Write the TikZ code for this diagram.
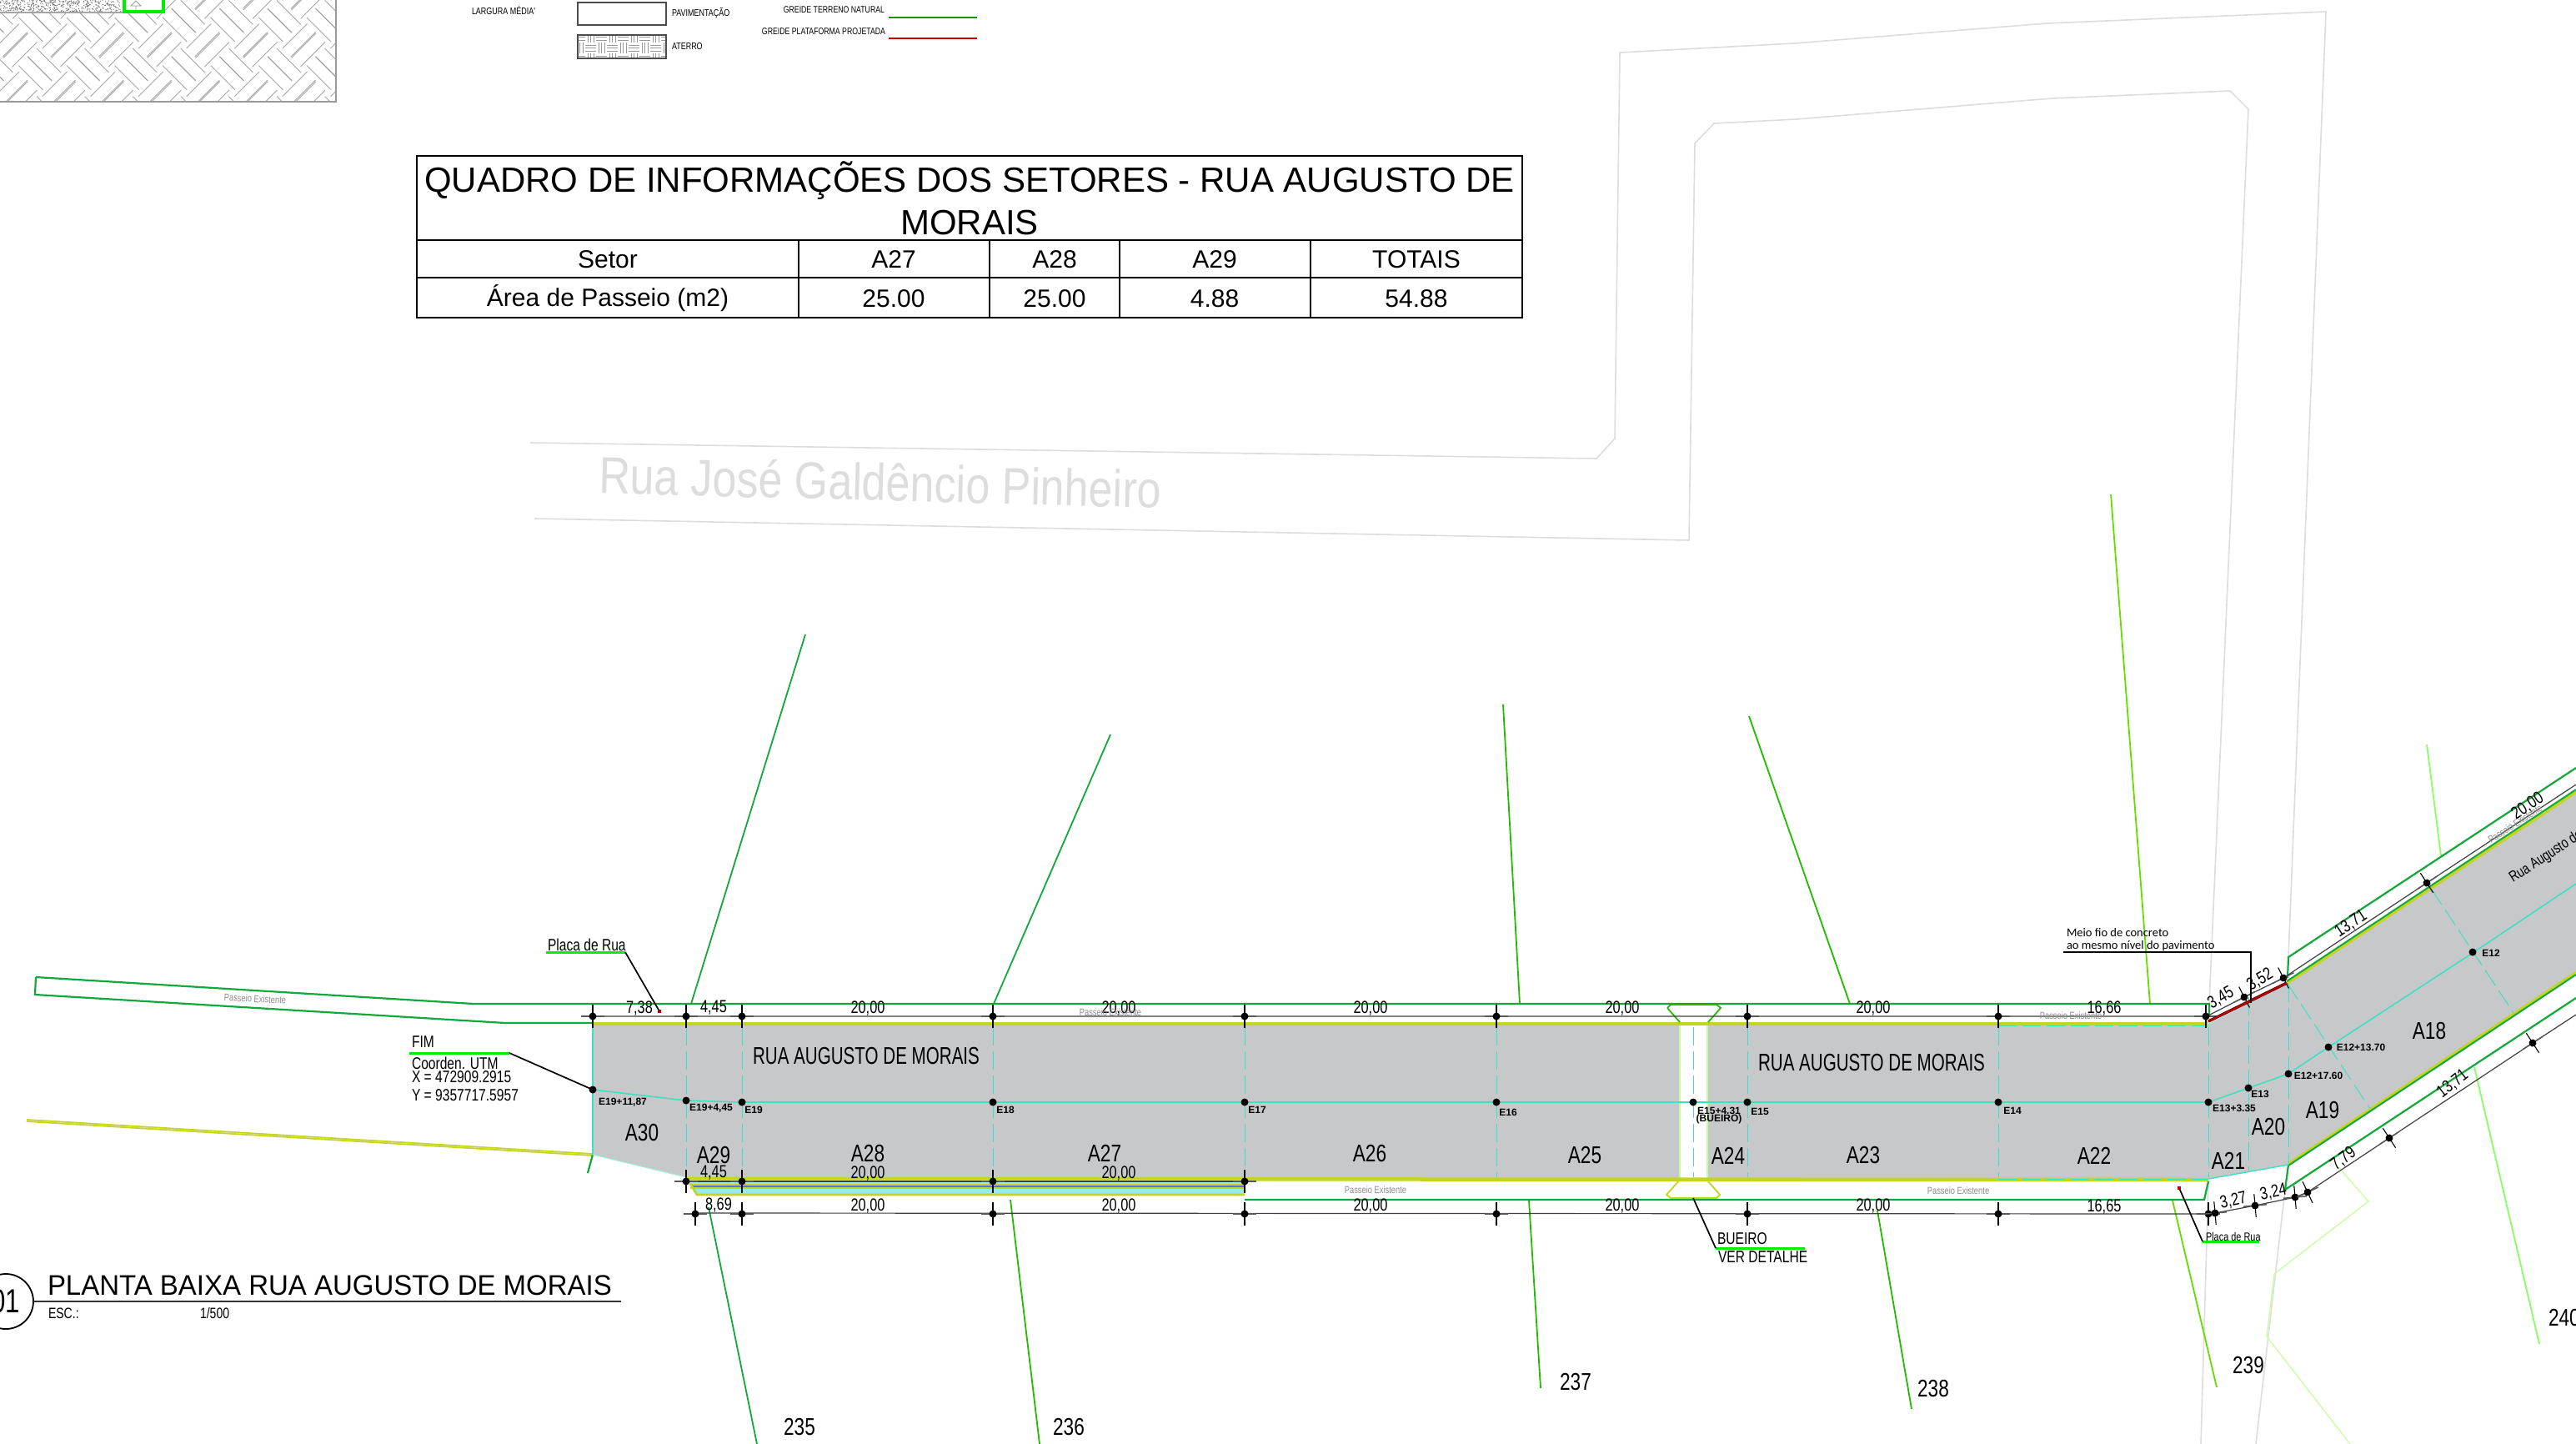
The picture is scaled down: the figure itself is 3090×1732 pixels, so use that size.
\documentclass[tikz,border=0pt]{standalone}
\usepackage{fontspec}
\setmainfont{Liberation Sans}
\newfontfamily\cad[FakeStretch=0.78]{Liberation Sans}
\newfontfamily\cadn[FakeStretch=0.71]{Liberation Sans}
\newfontfamily\cadw[FakeStretch=0.84]{Liberation Sans}
\newfontfamily\cadt[FakeStretch=0.97]{Liberation Sans}
\newfontfamily\calib{Carlito}
\definecolor{roadgrey}{HTML}{C7C8CA}
\definecolor{bandy}{HTML}{C4D420}
\definecolor{greenA}{HTML}{12A83C}
\definecolor{greenB}{HTML}{00EE00}
\definecolor{greenC}{HTML}{22BB00}
\definecolor{greenD}{HTML}{66DD00}
\definecolor{greenE}{HTML}{88FF66}
\definecolor{greenF}{HTML}{C4FF99}
\definecolor{cyanL}{HTML}{3FE0C0}
\definecolor{aqua}{HTML}{9AE8E8}
\definecolor{lightg}{HTML}{DDDDDD}
\newcommand\fs[1]{\fontsize{#1}{#1}\selectfont}
\newcommand\tx[4][]{\node[lbl,#1] (t#2-#3) at (#2,#3) {#4};}
\newcommand\dd[3]{\begin{scope}[shift={(#1,#2)},rotate=#3]\draw[stub] (-14,0) -- (14,0);\draw[tickm] (0,-14) -- (0,14);\fill (0,0) circle[radius=4.5];\end{scope}}
\tikzset{
  lbl/.style={inner sep=0pt,outer sep=0pt,text=black,font=\cad\fs{21}},
  dimt/.style={lbl,font=\cad\fs{21}},
  area/.style={lbl,font=\cad\fs{29}},
  est/.style={lbl,font=\bfseries\fs{12}},
  pass/.style={lbl,text=black!45,font=\cad\fs{12}},
  stat/.style={lbl,font=\cad\fs{29}},
  tabt/.style={lbl,font=\fs{30}},
  note/.style={lbl,font=\cad\fs{20}},
  stub/.style={draw=black!65,line width=1.5pt},
  tickm/.style={draw=black,line width=1.1pt},
  dimln/.style={draw=black!75,line width=1.2pt},
  greenl/.style={draw=greenA,line width=2.2pt},
  road/.style={draw=lightg,line width=1.6pt},
  cdash/.style={draw=cyanL,line width=1pt,dash pattern=on 22pt off 7pt},
  cline/.style={draw=cyanL,line width=1.6pt},
  leader/.style={draw=black,line width=1.7pt},
  under/.style={draw=greenB,line width=3pt},
  lot/.style={line width=1.8pt},
}
\begin{document}
\begin{tikzpicture}[x=1pt,y=-1pt]
\useasboundingbox (0,0) rectangle (3090,1732);
\clip (0,0) rectangle (3090,1732);
\fill[white] (0,0) rectangle (3090,1732);

% hatch block, top left
\begin{scope}
\clip (0,0) rectangle (403,122);
\foreach \i in {-1,...,7}{\foreach \j in {-2,...,2}{
  \begin{scope}[shift={(\i*57.6,\j*57.6)}]
  \foreach \a/\b in {4/69.5,15/80,51/58,61/68}{\draw[black!35,line width=0.9pt] (\a,\b) -- ++(29.5,-29.5);}
  \foreach \a/\b in {22.4/21,33/10,33/68,44/58}{\draw[black!35,line width=0.9pt] (\a,\b) -- ++(29,29);}
  \end{scope}}}
\end{scope}
\draw[black!40,line width=1.5pt] (403,0) -- (403,122) -- (0,122);
\fill[white] (0,0) rectangle (147,15);
\pgfmathsetseed{7}
\foreach \n in {1,...,420}{\pgfmathsetmacro\px{rnd*145}\pgfmathsetmacro\py{rnd*14}\fill[black!55] (\px,\py) circle[radius=0.7];}
\draw[black!35,line width=1.4pt] (0,15) -- (147,15);
\fill[white] (149,0) rectangle (195,13);
\draw[greenB,line width=3.6pt] (149,0) -- (149,14) -- (196,14) -- (196,0);
\draw[black!40,line width=0.8pt] (157,7) -- (163,1) -- (169,7) -- cycle (163,7) -- (163,13);

% legend
\tx[font=\cad\fs{11.5},anchor=west]{566}{13}{LARGURA MÉDIA'}
\draw[black!70,line width=1.2pt] (693,3) rectangle (799,30);
\tx[font=\cad\fs{11.5},anchor=west]{806}{16}{PAVIMENTAÇÃO}
\begin{scope}
\clip (693,42) rectangle (799,70);
\foreach \i in {0,...,8}{\foreach \j in {0,...,3}{
  \pgfmathsetmacro\xx{693+\i*13-4}\pgfmathsetmacro\yy{41+\j*13-3}
  \pgfmathparse{int(mod(\i+\j,2))}
  \ifnum\pgfmathresult=0
    \foreach \k in {3,6.5,10}{\draw[black!40,line width=0.6pt] (\xx,\yy+\k) -- (\xx+13,\yy+\k);}
  \else
    \foreach \k in {3,6.5,10}{\draw[black!40,line width=0.6pt] (\xx+\k,\yy) -- (\xx+\k,\yy+13);}
  \fi}}
\end{scope}
\draw[black!70,line width=1.2pt] (693,42) rectangle (799,70);
\tx[font=\cad\fs{11.5},anchor=west]{806}{56}{ATERRO}
\tx[font=\cad\fs{11.2},anchor=east]{1061}{12}{GREIDE TERRENO NATURAL}
\draw[greenC!80!black,line width=2pt] (1066,21) -- (1172,21);
\tx[font=\cad\fs{11.2},anchor=east]{1062}{38}{GREIDE PLATAFORMA PROJETADA}
\draw[red!80!black,line width=2pt] (1066,46) -- (1172,46);

% table
\draw[black,line width=2pt] (500,187) rectangle (1826,381);
\draw[black,line width=1.8pt] (500,288) -- (1826,288) (500,333) -- (1826,333);
\draw[black,line width=1.2pt] (958,288) -- (958,381) (1187,288) -- (1187,381) (1343,288) -- (1343,381) (1572,288) -- (1572,381);
\tx[font=\fs{42}]{1163}{217}{QUADRO DE INFORMAÇÕES DOS SETORES - RUA AUGUSTO DE}
\tx[font=\fs{42}]{1163}{267}{MORAIS}
\tx[tabt]{729}{311}{Setor}
\tx[tabt]{1072}{311}{A27}
\tx[tabt]{1265}{311}{A28}
\tx[tabt]{1457}{311}{A29}
\tx[tabt]{1699}{311}{TOTAIS}
\tx[tabt]{729}{358}{Área de Passeio (m2)}
\tx[tabt]{1072}{358}{25.00}
\tx[tabt]{1265}{358}{25.00}
\tx[tabt]{1457}{358}{4.88}
\tx[tabt]{1699}{358}{54.88}

% grey street outlines
\draw[road] (636,531) -- (1915,550) -- (1937,526) -- (1943,63) -- (2152,52) -- (2455,28) -- (2790,14) -- (2745,1148);
\draw[road] (641,622) -- (2026,648) -- (2033,172) -- (2056,148) -- (2155,143) -- (2461,118) -- (2675,109) -- (2697,131) -- (2650,1204);
\draw[road] (2649,1417) -- (2640,1732);
\draw[road] (2741,1427) -- (2706,1732);
\tx[font=\cadw\fs{62},text=lightg,rotate=-1.5,anchor=center]{1056}{578}{Rua José Galdêncio Pinheiro}

% plot boundary lines
\draw[lot,draw=greenA] (966,761) -- (829,1204);
\draw[lot,draw=greenA] (1332,881) -- (1192,1204);
\draw[lot,draw=greenC] (1803,845) -- (1823,1204);
\draw[lot,draw=greenC] (2098,859) -- (2219,1204);
\draw[lot,draw=greenD] (2532,593) -- (2579,1204);
\draw[lot,draw=greenA] (850,1448) -- (908,1732);
\draw[lot,draw=greenC] (1212,1439) -- (1247,1732);
\draw[lot,draw=greenC] (1834,1440) -- (1848,1665);
\draw[lot,draw=greenC] (2252,1452) -- (2293,1690);
\draw[lot,draw=greenD] (2606,1440) -- (2659,1664);
\draw[lot,draw=greenE] (2968,1280) -- (3046,1612);
\draw[lot,draw=greenE] (2911,893) -- (2928,1026);
\draw[greenF,line width=1.2pt] (2805,1400) -- (2841,1441) -- (2728,1528) -- (2719,1603) -- (2819,1732);

% road surface
\fill[roadgrey] (711,1230) -- (2649,1228) -- (2744,1179) -- (3090,949) -- (3090,1168) -- (2745,1397) -- (2649,1414) -- (823,1412) -- (711,1385) -- cycle;
\fill[white] (2015,1229) rectangle (2048,1413);
\draw[greenF,line width=1.2pt] (2015,1230) -- (2015,1413) (2048,1230) -- (2048,1413);

% bands and sidewalks
\draw[bandy,line width=4.5pt] (711,1228) -- (2647,1228);
\draw[bandy,line width=4.5pt] (823,1414) -- (2649,1415);
\draw[bandy,line width=3.5pt] (2645,1226.5) -- (2649,1226);
\draw[bandy,line width=3.5pt] (2743,1179.5) -- (3090,950);
\draw[bandy,line width=3.5pt] (2745,1396) -- (3090,1166.5);
\draw[greenA,line width=2pt] (2743,1177) -- (3090,947);
\draw[greenA,line width=2pt] (2745,1398) -- (3090,1169);
\draw[bandy,line width=3.8pt] (32,1344) -- (711,1385);
\draw[white!40!bandy,line width=0.6pt] (32,1344) -- (711,1385);
\fill[aqua] (823,1415) -- (1493,1415) -- (1493,1433) -- (836,1433) -- (828,1420) -- cycle;
\draw[bandy,line width=2pt] (828,1421) -- (1493,1421) (828,1424.5) -- (1493,1424.5);
\draw[blue!60!white,line width=1.6pt] (829,1422.8) -- (1493,1422.8);
\draw[bandy,line width=2.8pt] (828,1420) -- (836,1433) -- (1493,1433);

\draw[greenl] (43,1172) -- (42,1193) -- (606,1227) -- (711,1227);
\draw[greenl] (43,1172) -- (568,1204) -- (2650,1204) -- (2650,1217);
\draw[greenl] (1493,1439) -- (2644,1439) -- (2649,1417);
\draw[greenl] (3090,921) -- (2745,1148) -- (2744,1173);
\draw[greenl] (2745,1397) -- (2741,1427) -- (3090,1197);
\draw[greenl] (711,1385) -- (705,1407);
\draw[greenC,line width=1.8pt] (2000,1209) -- (2004,1205) -- (2059,1205) -- (2064,1209) -- (2049,1226) (2000,1209) -- (2015,1226);
\draw[bandy,line width=1.8pt] (2015,1415) -- (1999,1433) -- (2004,1437) -- (2059,1437) -- (2063,1433) -- (2049,1417);

% cross sections
\foreach \x in {823,890,1191,1493,1795,2031,2096,2397,2649}{\draw[cdash] (\x,1232) -- (\x,1412);}
\draw[cdash] (2697,1196) -- (2697,1404);
\draw[cdash] (2745,1180) -- (2745,1396);
\draw[cdash] (2744,1180) -- (2843,1330);
\draw[cdash] (2917,1067) -- (3015,1215);
\draw[cdash] (2397,1230) -- (2649,1230);
\draw[cdash] (2397,1414) -- (2649,1414);
\draw[cyanL,line width=1.2pt] (711,1230) -- (711,1385);
\draw[white!50!cyanL,line width=1pt] (711,1385) -- (823,1412);
\draw[cyanL,line width=1.4pt] (2649,1414) -- (2745,1397);

% centre line
\draw[cline] (711,1307) -- (823,1320) -- (890,1322) -- (2649,1322) -- (2697,1305) -- (2745,1288) -- (2793,1256) -- (2966,1143) -- (3090,1060);
\foreach \x/\y in {711/1307,823/1320,890/1322,1191/1322,1493/1322,1795/1322,2031/1322,2096/1322,2397/1322,2649/1322,2697/1305,2745/1288,2793/1256,2966/1142}{\fill (\x,\y) circle[radius=4.5];}

% dimension lines
\draw[dimln] (711,1219) -- (2647,1219) -- (2692,1196) -- (2739,1173) -- (2911,1059) -- (3090,941);
\draw[dimln] (823,1417) -- (1493,1417);
\draw[dimln] (834,1455) -- (2649,1456) -- (2657,1455) -- (2705,1446) -- (2753,1436) -- (2768,1430) -- (2866,1365) -- (3038,1251) -- (3090,1217);
\foreach \x in {711,823,890,1191,1493,1795,2096,2397,2646}{\dd{\x}{1219}{0}}
\dd{2692}{1196}{27}\dd{2739}{1173}{27}\dd{2911}{1059}{33}
\foreach \x in {823,890,1191,1493}{\dd{\x}{1417}{0}}
\foreach \x in {834,890,1191,1493,1795,2096,2397,2649}{\dd{\x}{1456}{0}}
\dd{2657}{1455}{5}\dd{2705}{1446}{5}\dd{2753}{1436}{5}\dd{2768}{1430}{25}\dd{2866}{1365}{33}\dd{3038}{1251}{33}

% red curb
\draw[black!70!red,line width=3.4pt] (2649,1225) -- (2743,1179);
\draw[red!75!black,line width=2pt] (2649,1225) -- (2743,1179);

% dimension labels
\tx[dimt]{767}{1209}{7,38}
\tx[dimt]{856}{1209}{4,45}
\foreach \x in {1041,1342,1644,1946,2247}{\tx[dimt]{\x}{1209}{20,00}}
\tx[dimt]{2524}{1209}{16,66}
\tx[dimt]{856}{1407}{4,45}
\tx[dimt]{1041}{1407}{20,00}
\tx[dimt]{1342}{1407}{20,00}
\tx[dimt]{862}{1445}{8,69}
\foreach \x in {1041,1342,1644,1946,2247}{\tx[dimt]{\x}{1446}{20,00}}
\tx[dimt]{2524}{1447}{16,65}
\tx[dimt,rotate=30]{2664}{1197}{3,45}
\tx[dimt,rotate=30]{2711}{1175}{3,52}
\tx[dimt,rotate=33]{2820}{1108}{13,71}
\tx[dimt,rotate=33]{3032}{967}{20,00}
\tx[dimt,rotate=12]{2679}{1440}{3,27}
\tx[dimt,rotate=12]{2727}{1430}{3,24}
\tx[dimt,rotate=38]{2811}{1390}{7,79}
\tx[dimt,rotate=38]{2942}{1300}{13,71}

% area labels
\tx[area]{770}{1359}{A30}
\tx[area]{856}{1386}{A29}
\tx[area]{1041}{1383}{A28}
\tx[area]{1325}{1383}{A27}
\tx[area]{1643}{1383}{A26}
\tx[area]{1901}{1386}{A25}
\tx[area]{2073}{1386}{A24}
\tx[area]{2235}{1386}{A23}
\tx[area]{2512}{1386}{A22}
\tx[area]{2673}{1392}{A21}
\tx[area]{2721}{1352}{A20}
\tx[area]{2786}{1332}{A19}
\tx[area]{2914}{1237}{A18}

% station labels
\tx[est]{747}{1322}{E19+11,87}
\tx[est]{853}{1329}{E19+4,45}
\tx[est]{904}{1331}{E19}
\tx[est]{1206}{1331}{E18}
\tx[est]{1508}{1331}{E17}
\tx[est]{1809}{1334}{E16}
\tx[est]{2062}{1332}{E15+4.31}
\tx[est]{2062}{1342}{(BUEIRO)}
\tx[est]{2111}{1333}{E15}
\tx[est]{2414}{1332}{E14}
\tx[est]{2680}{1329}{E13+3.35}
\tx[est]{2711}{1312}{E13}
\tx[est]{2781}{1290}{E12+17.60}
\tx[est]{2832}{1256}{E12+13.70}
\tx[est]{2988}{1143}{E12}

% street names
\tx[font=\cadn\fs{29}]{1039}{1267}{RUA AUGUSTO DE MORAIS}
\tx[font=\cadn\fs{29}]{2245}{1275}{RUA AUGUSTO DE MORAIS}
\tx[font=\cad\fs{18},rotate=33,anchor=west]{3012}{1055}{Rua Augusto de}

% existing sidewalk labels
\tx[pass,rotate=-3]{306}{1198}{Passeio Existente}
\tx[pass]{1332}{1214}{Passeio Existente}
\tx[pass]{1650}{1427}{Passeio Existente}
\tx[pass]{2484}{1218}{Passeio Existente}
\tx[pass]{2349}{1428}{Passeio Existente}
\tx[pass,rotate=33]{3017}{988}{Passeio Existente}

% plot numbers
\tx[stat]{959}{1711}{235}
\tx[stat]{1282}{1711}{236}
\tx[stat]{1890}{1657}{237}
\tx[stat]{2319}{1665}{238}
\tx[stat]{2697}{1637}{239}
\tx[stat,anchor=west]{3057}{1580}{240}

% callouts
\tx[note,anchor=west]{657}{1133}{Placa de Rua}
\draw[under] (655,1142) -- (750,1142);
\draw[leader] (750,1142) -- (791,1213);
\fill[red!70!black] (789,1211) rectangle (793,1215);
\tx[note,anchor=west]{494}{1250}{FIM}
\draw[under] (491,1263) -- (611,1263);
\draw[leader] (611,1263) -- (711,1307);
\tx[note,anchor=west]{494}{1275}{Coorden. UTM}
\tx[note,anchor=west]{494}{1292}{X = 472909.2915}
\tx[note,anchor=west]{494}{1314}{Y = 9357717.5957}
\tx[note,anchor=west]{2060}{1486}{BUEIRO}
\draw[under] (2058,1497) -- (2165,1497);
\draw[leader] (2058,1497) -- (2031,1437);
\tx[note,anchor=west]{2061}{1508}{VER DETALHE}
\tx[lbl,font=\calib\fs{14.5},anchor=west]{2479}{1119}{Meio fio de concreto}
\tx[lbl,font=\calib\fs{14.5},anchor=west]{2479}{1135}{ao mesmo nível do pavimento}
\draw[leader] (2475,1142) -- (2700,1142) -- (2700,1203);
\tx[font=\cad\fs{14},anchor=west]{2646}{1483}{Placa de Rua}
\draw[under] (2642,1489) -- (2710,1489);
\draw[leader] (2642,1489) -- (2614,1425);
\fill[red!70!black] (2612,1423) rectangle (2616,1427);

% drawing title
\draw[black,line width=1.8pt] (7,1561) circle[radius=33];
\tx[font=\cad\fs{40}]{7}{1561}{01}
\draw[black!80,line width=2.4pt] (40,1561) -- (745,1561);
\tx[font=\cadt\fs{34},anchor=west]{57}{1542}{PLANTA BAIXA RUA AUGUSTO DE MORAIS}
\tx[font=\cad\fs{18},anchor=west]{58}{1575}{ESC.:}
\tx[font=\cad\fs{18},anchor=west]{240}{1575}{1/500}
\end{tikzpicture}
\end{document}
